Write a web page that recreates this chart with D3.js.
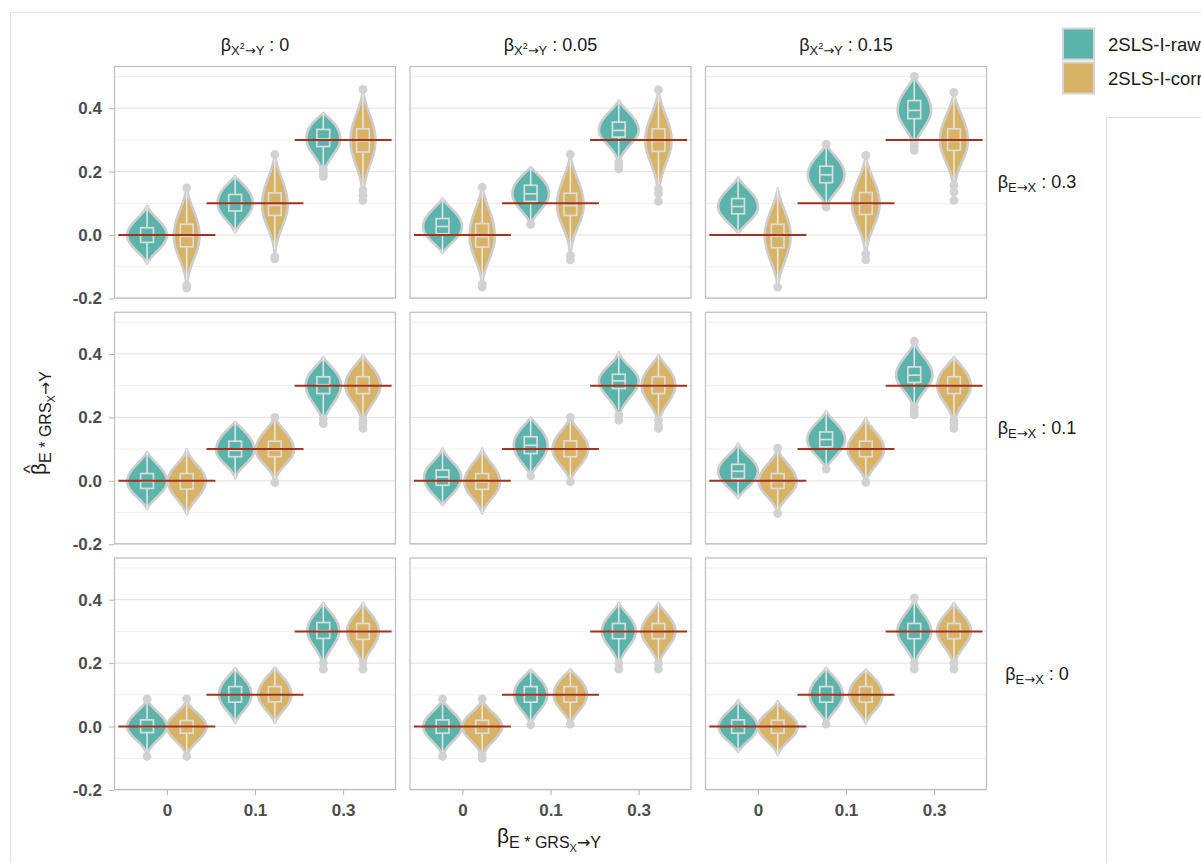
<!DOCTYPE html>
<html><head><meta charset="utf-8">
<script src="https://cdn.jsdelivr.net/npm/d3@7"></script>
<style>
body{margin:0;background:#fff}
svg{display:block}
text{font-family:"Liberation Sans",Arial,Helvetica,sans-serif}
</style>
</head><body>
<svg id="chart" width="1201" height="863"></svg>
<script>
// ---------------- data ----------------
const methods = ["2SLS-I-raw", "2SLS-I-corr"];
const colLevels = ["0", "0.05", "0.15"];      // beta X^2 -> Y
const rowLevels = ["0.3", "0.1", "0"];        // beta E -> X
const xCats = ["0", "0.1", "0.3"];            // beta E*GRS_X -> Y
const trueValues = [0, 0.1, 0.3];
const yTicks = [-0.2, 0, 0.2, 0.4];
const yTickLabels = ["-0.2", "0.0", "0.2", "0.4"];
const yMinor = [-0.1, 0.1, 0.3, 0.5];
const yDomain = [-0.2, 0.533];

// [min, q1, median, q3, max] for x = 0, 0.1, 0.3 ; panels row-major
const rawStats = [
  [[-0.090,-0.023,0.000,0.023,0.092],[0.008,0.076,0.100,0.128,0.186],[0.183,0.279,0.303,0.333,0.385]],
  [[-0.057,0.004,0.027,0.052,0.115],[0.034,0.106,0.130,0.157,0.214],[0.209,0.309,0.330,0.356,0.424]],
  [[0.004,0.067,0.090,0.115,0.181],[0.088,0.165,0.190,0.217,0.286],[0.267,0.367,0.393,0.424,0.500]],
  [[-0.089,-0.024,-0.002,0.023,0.091],[0.007,0.076,0.096,0.125,0.186],[0.180,0.275,0.303,0.328,0.390]],
  [[-0.077,-0.014,0.012,0.034,0.102],[0.016,0.086,0.112,0.139,0.200],[0.191,0.291,0.315,0.336,0.406]],
  [[-0.054,0.007,0.030,0.052,0.118],[0.037,0.107,0.130,0.154,0.220],[0.209,0.310,0.333,0.359,0.440]],
  [[-0.094,-0.019,0.000,0.021,0.087],[0.011,0.077,0.100,0.126,0.184],[0.181,0.278,0.302,0.328,0.390]],
  [[-0.094,-0.021,0.000,0.021,0.087],[0.005,0.077,0.100,0.126,0.180],[0.181,0.277,0.300,0.325,0.390]],
  [[-0.080,-0.021,0.000,0.021,0.085],[0.008,0.077,0.100,0.126,0.185],[0.181,0.277,0.300,0.325,0.406]]
];
const rawOutliers = [
  [[],[],[0.207,0.195,0.185]],
  [[],[0.034],[0.230,0.220,0.209]],
  [[],[0.286,0.088],[0.500,0.293,0.280,0.267]],
  [[],[],[0.196,0.180]],
  [[],[0.016],[0.207,0.191]],
  [[],[0.037],[0.440,0.233,0.220,0.209]],
  [[0.087,-0.094],[],[0.200,0.181]],
  [[0.087,-0.094],[0.005],[0.200,0.181]],
  [[],[0.008],[0.406,0.200,0.181]]
];
const corrStats = [
  [[-0.167,-0.037,-0.004,0.034,0.149],[-0.075,0.062,0.094,0.133,0.254],[0.109,0.262,0.297,0.335,0.459]],
  [[-0.164,-0.038,-0.005,0.036,0.151],[-0.078,0.062,0.093,0.132,0.254],[0.106,0.264,0.298,0.335,0.458]],
  [[-0.164,-0.040,-0.003,0.034,0.146],[-0.078,0.065,0.098,0.134,0.251],[0.109,0.267,0.298,0.335,0.450]],
  [[-0.106,-0.026,0.000,0.023,0.100],[-0.005,0.076,0.097,0.125,0.200],[0.165,0.275,0.300,0.328,0.396]],
  [[-0.103,-0.027,-0.003,0.023,0.102],[-0.003,0.076,0.100,0.126,0.200],[0.165,0.275,0.300,0.328,0.396]],
  [[-0.103,-0.024,-0.002,0.023,0.102],[-0.005,0.076,0.100,0.125,0.199],[0.165,0.275,0.300,0.328,0.390]],
  [[-0.094,-0.021,0.000,0.019,0.087],[0.011,0.078,0.100,0.126,0.187],[0.181,0.275,0.300,0.325,0.390]],
  [[-0.100,-0.021,0.000,0.020,0.087],[0.008,0.077,0.100,0.126,0.180],[0.181,0.277,0.300,0.325,0.390]],
  [[-0.090,-0.021,0.000,0.020,0.080],[0.010,0.077,0.100,0.126,0.180],[0.181,0.277,0.300,0.325,0.390]]
];
const corrOutliers = [
  [[0.149,-0.158,-0.167],[0.254,-0.068,-0.075],[0.459,0.141,0.125,0.109]],
  [[0.151,-0.155,-0.164],[0.254,-0.064,-0.078],[0.458,0.146,0.130,0.106]],
  [[-0.164],[0.251,-0.059,-0.078],[0.450,0.157,0.136,0.109]],
  [[],[0.200,-0.005],[0.191,0.180,0.165]],
  [[],[0.200,-0.003],[0.191,0.175,0.165]],
  [[0.102,-0.103],[-0.005],[0.191,0.180,0.165]],
  [[0.087,-0.094],[],[0.200,0.181]],
  [[0.087,-0.090,-0.100],[0.008],[0.200,0.181]],
  [[],[],[0.200,0.181]]
];

// ---------------- styles / layout ----------------
const fills = ["#5ab4ac", "#d8b365"];
const outlineCol = "#cdcdcd";
const boxCol = "#dcdcdc";
const refCol = "#a2321e";
const txtCol = "#1a1a1a";
const tickTxtCol = "#4d4d4d";

const panelW = 282, panelH = 232.5;
const colLeft = i => 114 + i * 295.5;
const rowTop = j => 66 + j * 245.75;

const svg = d3.select("#chart");

// page frame lines
svg.append("path").attr("d", "M10.5,863 V12.5 H1201").attr("fill", "none").attr("stroke", "#e3e3e3").attr("stroke-width", 1);
svg.append("path").attr("d", "M1106.5,863 V117.5 H1201").attr("fill", "none").attr("stroke", "#dedede").attr("stroke-width", 1);

const x = d3.scalePoint().domain(xCats).range([0, panelW]).padding(0.6);
const step = x.step();
const y = d3.scaleLinear().domain(yDomain).range([panelH, 0]);
const dodge = [-0.225 * step, 0.225 * step];
const maxHalf = 0.225 * step;
const boxW = 0.145 * step;

const statsFor = m => (m === 0 ? rawStats : corrStats);
const outFor = m => (m === 0 ? rawOutliers : corrOutliers);

function sds(s) {
  const [lo, q1, med, q3, hi] = s;
  return [(med - q1) / 0.6745, (q3 - med) / 0.6745];
}
function peak(s) { const [a, b] = sds(s); return 2 / (Math.sqrt(2 * Math.PI) * (a + b)); }
// smoothed density profile (kernel-smoothed look), tapering to the data extremes
function profile(v, s) {
  const [lo, q1, med, q3, hi] = s;
  const [a, b] = sds(s);
  const sd = (v < med ? a : b) * 1.4;
  const t = v < med ? (med - v) / (med - lo) : (v - med) / (hi - med);
  return Math.exp(-0.5 * ((v - med) / sd) ** 2) * Math.max(0, 1 - t ** 4);
}

function mathText(parent, px, py, parts, sizes, offsets, anchor) {
  const t = parent.append("text").attr("x", px).attr("y", py)
    .attr("text-anchor", anchor || "middle").attr("fill", txtCol)
    .style("white-space", "pre");
  let cur = 0;
  parts.forEach(([s, lvl, fam]) => {
    const off = offsets[lvl];
    const ts = t.append("tspan").attr("dy", off - cur).attr("font-size", sizes[lvl]).text(s);
    if (fam) ts.attr("font-family", fam);
    cur = off;
  });
  return t;
}
const ARW = "'DejaVu Sans', sans-serif";
const stripSizes = {0: 18, 1: 13, 2: 9};
const stripOffsets = {0: 0, 1: 4, 2: -2};

rowLevels.forEach((rl, r) => {
  colLevels.forEach((cl, c) => {
    const p = r * 3 + c;
    const g = svg.append("g").attr("transform", `translate(${colLeft(c)},${rowTop(r)})`);
    g.append("rect").attr("width", panelW).attr("height", panelH).attr("fill", "#fff");
    // grid
    g.selectAll(".minor").data(yMinor).join("line")
      .attr("x1", 0).attr("x2", panelW).attr("y1", d => y(d)).attr("y2", d => y(d))
      .attr("stroke", "#efefef").attr("stroke-width", 1);
    g.selectAll(".major").data(yTicks).join("line")
      .attr("x1", 0).attr("x2", panelW).attr("y1", d => y(d)).attr("y2", d => y(d))
      .attr("stroke", "#e0e0e0").attr("stroke-width", 1);

    // panel max density (area scaling)
    let maxPeak = 0;
    [0, 1].forEach(m => statsFor(m)[p].forEach(s => { maxPeak = Math.max(maxPeak, peak(s)); }));

    [0, 1].forEach(m => {
      statsFor(m)[p].forEach((s, k) => {
        const cx = x(xCats[k]) + dodge[m];
        const [lo, q1, med, q3, hi] = s;
        const n = 160;
        const pts = d3.range(n + 1).map(i => {
          const v = lo + (hi - lo) * i / n;
          return {v, w: profile(v, s) * peak(s) / maxPeak * maxHalf};
        });
        const area = d3.area().curve(d3.curveBasis)
          .y(d => y(d.v)).x0(d => cx - d.w).x1(d => cx + d.w);
        g.append("path").attr("d", area(pts))
          .attr("fill", fills[m]).attr("stroke", outlineCol).attr("stroke-width", 2.6)
          .attr("stroke-linejoin", "round");

        // boxplot
        const outs = outFor(m)[p][k];
        const iqr = q3 - q1;
        const upOut = outs.filter(o => o > q3), lowOut = outs.filter(o => o < q1);
        let wHi = hi, wLo = lo;
        if (upOut.length) wHi = Math.min(q3 + 1.5 * iqr, d3.min(upOut) - 0.005);
        if (lowOut.length) wLo = Math.max(q1 - 1.5 * iqr, d3.max(lowOut) + 0.005);
        g.append("line").attr("x1", cx).attr("x2", cx).attr("y1", y(q3)).attr("y2", y(wHi))
          .attr("stroke", "#e8e8e8").attr("stroke-width", 1.5);
        g.append("line").attr("x1", cx).attr("x2", cx).attr("y1", y(q1)).attr("y2", y(wLo))
          .attr("stroke", "#e8e8e8").attr("stroke-width", 1.5);
        g.append("rect").attr("x", cx - boxW / 2).attr("width", boxW)
          .attr("y", y(q3)).attr("height", y(q1) - y(q3))
          .attr("fill", fills[m]).attr("stroke", boxCol).attr("stroke-width", 1.7);
        g.append("line").attr("x1", cx - boxW / 2).attr("x2", cx + boxW / 2)
          .attr("y1", y(med)).attr("y2", y(med)).attr("stroke", boxCol).attr("stroke-width", 1.7);
        g.selectAll(null).data(outs).join("circle")
          .attr("cx", cx).attr("cy", d => y(d)).attr("r", 4.4).attr("fill", "#d2d2d2");
      });
    });

    // true value reference lines
    g.selectAll(".ref").data(trueValues).join("line")
      .attr("x1", (d, i) => x(xCats[i]) - 0.55 * step)
      .attr("x2", (d, i) => x(xCats[i]) + 0.55 * step)
      .attr("y1", d => y(d)).attr("y2", d => y(d))
      .attr("stroke", refCol).attr("stroke-width", 2);

    g.append("rect").attr("x", 0.5).attr("y", 0.5).attr("width", panelW - 1).attr("height", panelH - 1)
      .attr("fill", "none").attr("stroke", "#bdbdbd").attr("stroke-width", 1.2);

    // axes
    if (c === 0) {
      const ax = g.append("g").call(d3.axisLeft(y).tickValues(yTicks)
        .tickFormat((d, i) => yTickLabels[i]).tickSize(5).tickPadding(7));
      ax.select(".domain").remove();
      ax.selectAll("line").attr("stroke", "#b3b3b3");
      ax.selectAll("text").attr("fill", tickTxtCol).attr("font-size", 17).attr("font-weight", "bold")
        .attr("font-family", "'Liberation Sans', Arial, sans-serif");
    }
    if (r === 2) {
      const ax = g.append("g").attr("transform", `translate(0,${panelH})`)
        .call(d3.axisBottom(x).tickSize(5).tickPadding(9));
      ax.select(".domain").remove();
      ax.selectAll("line").attr("stroke", "#b3b3b3");
      ax.selectAll("text").attr("fill", tickTxtCol).attr("font-size", 17).attr("font-weight", "bold")
        .attr("font-family", "'Liberation Sans', Arial, sans-serif");
    }
    // top strips
    if (r === 0) {
      mathText(svg, colLeft(c) + panelW / 2, 51,
        [["\u03B2", 0], ["X", 1], ["2", 2], ["\u2192", 1, ARW], ["Y", 1], [" : " + cl, 0]],
        stripSizes, stripOffsets);
    }
    // right strips
    if (c === 2) {
      mathText(svg, 1037, rowTop(r) + panelH / 2 + 6,
        [["\u03B2", 0], ["E", 1], ["\u2192", 1, ARW], ["X", 1], [" : " + rl, 0]],
        stripSizes, stripOffsets);
    }
  });
});

// axis titles
const titleSizes = {0: 21, 1: 16, 3: 11};
const titleOffsets = {0: 0, 1: 5, 3: 9};
const titleParts = [["\u03B2", 0], ["E * GRS", 1], ["X", 3], ["\u2192", 1, ARW], ["Y", 1]];
mathText(svg, 549, 843, titleParts, titleSizes, titleOffsets);

const yt = svg.append("g").attr("transform", "translate(0,423) rotate(-90)");
const ytText = mathText(yt, 0, 46, titleParts, titleSizes, titleOffsets);
try {
  const ext = ytText.node().getExtentOfChar(0);
  yt.append("text").attr("x", ext.x + ext.width / 2).attr("y", ext.y + 9)
    .attr("text-anchor", "middle").attr("font-size", 18).attr("fill", txtCol).text("^");
} catch (e) {}

// legend
methods.forEach((m, i) => {
  const ky = 28.5 + i * 34;
  svg.append("rect").attr("x", 1063).attr("y", ky).attr("width", 31).attr("height", 31)
    .attr("fill", fills[i]).attr("stroke", "#d6d6d6").attr("stroke-width", 2);
  svg.append("text").attr("x", 1108).attr("y", ky + 22).attr("font-size", 18.5)
    .attr("fill", txtCol).text(m);
});
</script>
</body></html>
